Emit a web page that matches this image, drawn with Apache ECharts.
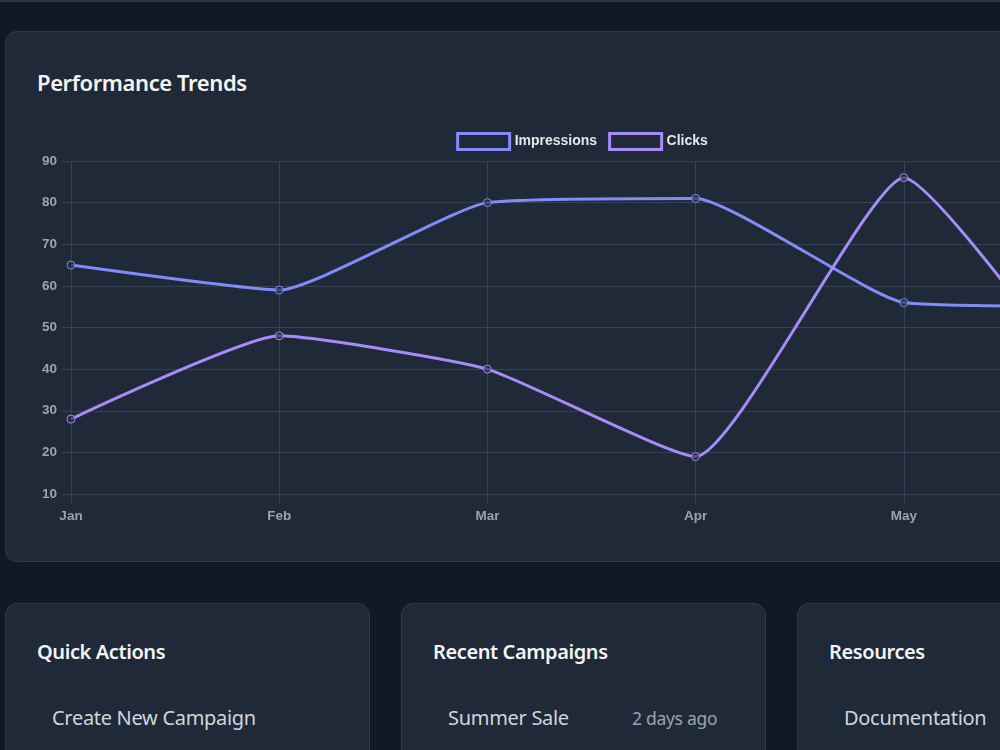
<!DOCTYPE html>
<html>
<head>
<meta charset="utf-8">
<script src="https://cdn.jsdelivr.net/npm/echarts@6/dist/echarts.min.js"></script>
<style>
  html, body { margin: 0; padding: 0; }
  body {
    width: 1000px; height: 750px; overflow: hidden; position: relative;
    background: #111827; font-family: 'Noto Sans', sans-serif;
  }
  .topline { position: absolute; left: 0; top: 0; width: 1000px; height: 2px; background: #2b3544; }
  .card {
    position: absolute; background: #1f2937; border: 1px solid #2e3a4b;
    border-radius: 12px; box-sizing: border-box;
  }
  .card h3 {
    position: absolute; left: 31px; margin: 0; color: #f3f4f6;
    font-size: 20px; font-weight: 600; letter-spacing: -0.4px;
  }
  .item { position: absolute; color: #d1d5db; font-size: 20px; letter-spacing: -0.3px; }
  .meta { position: absolute; color: #9ca3af; font-size: 17.5px; letter-spacing: -0.3px; }
  #chart { position: absolute; left: 37px; top: 110px; width: 1090px; height: 430px; }
</style>
</head>
<body>
  <div class="topline"></div>
  <div class="card" style="left:5px; top:31px; width:1154px; height:531px;">
    <h3 style="top:35px; font-size:22px;">Performance Trends</h3>
  </div>
  <div id="chart"></div>

  <div class="card" style="left:5px; top:603px; width:365px; height:200px;">
    <h3 style="top:34px;">Quick Actions</h3>
    <div class="item" style="left:46px; top:100px;">Create New Campaign</div>
  </div>
  <div class="card" style="left:401px; top:603px; width:365px; height:200px;">
    <h3 style="top:34px;">Recent Campaigns</h3>
    <div class="item" style="left:46px; top:100px;">Summer Sale</div>
    <div class="meta" style="left:230px; top:102px;">2 days ago</div>
  </div>
  <div class="card" style="left:797px; top:603px; width:365px; height:200px;">
    <h3 style="top:34px;">Resources</h3>
    <div class="item" style="left:46px; top:100px;">Documentation</div>
  </div>

<script>
  // chart data
  const months = ['Jan', 'Feb', 'Mar', 'Apr', 'May', 'Jun']
  const impressions = [65, 59, 80, 81, 56, 55]
  const clicks = [28, 48, 40, 19, 86, 26]

  const gridColor = '#374151'
  const labelColor = '#9ca3af'
  const colors = ['#818cf8', '#a78bfa']
  const axisFont = { color: labelColor, fontSize: 13.5, fontFamily: 'Liberation Sans', fontWeight: 'bold' }

  function lineSeries(name, data, color) {
    return {
      name: name,
      type: 'line',
      data: data,
      smooth: 0.15,
      symbol: 'circle',
      symbolSize: 8,
      lineStyle: { color: color, width: 3 },
      itemStyle: { color: 'rgba(31,41,55,0.6)', borderColor: color, borderWidth: 1 }
    }
  }

  const chart = echarts.init(document.getElementById('chart'))
  chart.setOption({
    animation: false,
    legend: {
      top: 17,
      left: 'center',
      icon: 'rect',
      itemWidth: 52,
      itemHeight: 16,
      itemGap: 11,
      itemStyle: { color: '#1f2937', borderWidth: 3 },
      textStyle: { color: '#e5e7eb', fontSize: 14, fontFamily: 'Liberation Sans', fontWeight: 'bold' },
      data: ['Impressions', 'Clicks']
    },
    grid: { left: 34, right: 15, top: 51, bottom: 46 },
    xAxis: {
      type: 'category',
      boundaryGap: false,
      data: months,
      axisLine: { lineStyle: { color: gridColor, width: 1 } },
      axisTick: { show: true, length: 9, lineStyle: { color: gridColor } },
      splitLine: { show: true, lineStyle: { color: gridColor, width: 1 } },
      axisLabel: Object.assign({ margin: 15 }, axisFont)
    },
    yAxis: {
      type: 'value',
      min: 10,
      max: 90,
      interval: 10,
      axisLine: { show: false },
      axisTick: { show: true, length: 9, lineStyle: { color: gridColor } },
      splitLine: { show: true, lineStyle: { color: gridColor, width: 1 } },
      axisLabel: Object.assign({ margin: 14 }, axisFont)
    },
    series: [
      lineSeries('Impressions', impressions, colors[0]),
      lineSeries('Clicks', clicks, colors[1])
    ]
  })
</script>
</body>
</html>
